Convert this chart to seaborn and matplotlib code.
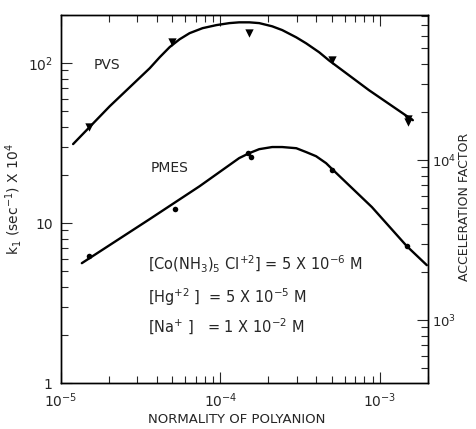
import numpy as np
import pandas as pd
import matplotlib.pyplot as plt
import matplotlib.ticker as mticker
import seaborn as sns

# Measured points (normality of polyanion, k1 x 10^4 in sec^-1)
pvs_x = [1.5e-5, 5e-5, 1.5e-4, 5e-4, 1.5e-3, 1.5e-3]
pvs_y = [39.8, 135, 154, 104, 45, 43]
pmes_x = [1.5e-5, 5.2e-5, 1.48e-4, 1.56e-4, 5e-4, 1.48e-3]
pmes_y = [6.2, 12.2, 27.4, 25.9, 21.4, 7.2]

# Hand-drawn smooth curves
pvs_curve_x = [1.19e-5, 2.02e-5, 3.60e-5, 4.16e-5, 4.80e-5, 5.54e-5, 6.40e-5,
               7.72e-5, 9.44e-5, 1.138e-4, 1.31e-4, 1.518e-4, 1.75e-4, 2.11e-4,
               2.44e-4, 2.99e-4, 3.45e-4, 4.16e-4, 4.80e-4, 8.54e-4, 1.61e-3]
pvs_curve_y = [31.2, 53.8, 93.0, 109, 126, 141, 154,
               165.5, 173, 178, 180, 180, 178, 170,
               161, 145, 133, 117, 104, 67.8, 44.0]
pmes_curve_x = [1.35e-5, 3.60e-5, 7.39e-5, 1.31e-4, 1.518e-4, 1.75e-4, 2.11e-4,
                2.44e-4, 2.99e-4, 3.45e-4, 3.98e-4, 4.60e-4, 5.01e-4, 8.91e-4,
                1.475e-3, 1.97e-3]
pmes_curve_y = [5.62, 10.6, 17.0, 25.5, 27.4, 29.0, 29.9,
                29.9, 29.4, 27.8, 26.2, 23.7, 21.8, 12.6,
                7.18, 5.46]

# acceleration factor per unit of k1 x 10^4 (right-hand scale)
accel_per_k = 404

x_ticks = [1e-5, 1e-4, 1e-3]
x_tick_labels = [r"10$^{-5}$", r"10$^{-4}$", r"10$^{-3}$"]
y_ticks = [1, 10, 100]
y_tick_labels = ["1", "10", r"10$^{2}$"]
y2_ticks = [1e3, 1e4]
y2_tick_labels = [r"10$^{3}$", r"10$^{4}$"]

conditions = [
    r"[Co(NH$_3$)$_5$ Cl$^{+2}$] = 5 X 10$^{-6}$ M",
    r"[Hg$^{+2}$ ]  = 5 X 10$^{-5}$ M",
    r"[Na$^{+}$ ]   = 1 X 10$^{-2}$ M",
]

sns.set_style("ticks")
plt.rcParams['font.family'] = ['DejaVu Sans']

fig = plt.figure(figsize=(4.77, 4.29), dpi=100)
ax = fig.add_axes([0.128, 0.107, 0.769, 0.858])

curves = pd.concat([
    pd.DataFrame({'x': pvs_curve_x, 'y': pvs_curve_y, 'set': 'PVS'}),
    pd.DataFrame({'x': pmes_curve_x, 'y': pmes_curve_y, 'set': 'PMES'}),
])
sns.lineplot(data=curves, x='x', y='y', units='set', estimator=None, sort=False,
             color='black', lw=1.7, ax=ax)
sns.scatterplot(x=pvs_x, y=pvs_y, marker='v', s=36, color='black',
                edgecolor='black', linewidth=0, ax=ax, zorder=3)
sns.scatterplot(x=pmes_x, y=pmes_y, marker='o', s=16, color='black',
                edgecolor='black', linewidth=0, ax=ax, zorder=3)

ax.set_xscale('log')
ax.set_yscale('log')
ax.set_xlim(1e-5, 2e-3)
ax.set_ylim(1, 200)

ax.set_xticks(x_ticks)
ax.set_xticklabels(x_tick_labels)
ax.set_yticks(y_ticks)
ax.set_yticklabels(y_tick_labels)
ax.xaxis.set_minor_locator(mticker.LogLocator(subs=np.arange(2, 10)))
ax.yaxis.set_minor_locator(mticker.LogLocator(subs=np.arange(2, 10)))
ax.xaxis.set_minor_formatter(mticker.NullFormatter())
ax.yaxis.set_minor_formatter(mticker.NullFormatter())
ax.tick_params(which='both', direction='in', top=True, right=False,
               labelsize=10, width=0.8, pad=6)
ax.tick_params(which='major', length=8)
ax.tick_params(which='minor', length=5)

ax.set_xlabel("NORMALITY OF POLYANION", fontsize=9.5)
ax.xaxis.set_label_coords(0.48, -0.08)
ax.set_ylabel(r"k$_1$ (sec$^{-1}$) X 10$^4$", fontsize=10)
ax.yaxis.set_label_coords(-0.10, 0.5)

# right-hand acceleration factor scale
ax2 = ax.twinx()
ax2.set_yscale('log')
ax2.set_ylim(1 * accel_per_k, 200 * accel_per_k)
ax2.set_yticks(y2_ticks)
ax2.set_yticklabels(y2_tick_labels)
ax2.yaxis.set_minor_locator(mticker.LogLocator(subs=np.arange(2, 10)))
ax2.yaxis.set_minor_formatter(mticker.NullFormatter())
ax2.tick_params(which='both', direction='in', labelsize=9.5, width=0.8, pad=3)
ax2.tick_params(which='major', length=8)
ax2.tick_params(which='minor', length=5)
ax2.set_ylabel("ACCELERATION FACTOR", fontsize=9)
ax2.yaxis.set_label_coords(1.082, 0.48)

for a in (ax, ax2):
    for spine in a.spines.values():
        spine.set_linewidth(1.0)
        spine.set_color('black')

ax.text(0.125, 0.864, "PVS", transform=ax.transAxes, fontsize=10,
        ha='center', va='center')
ax.text(0.297, 0.584, "PMES", transform=ax.transAxes, fontsize=10,
        ha='center', va='center')
for text, ypos in zip(conditions, [0.323, 0.234, 0.152]):
    ax.text(0.237, ypos, text, transform=ax.transAxes, fontsize=10.5,
            ha='left', va='center')

plt.savefig('out.png', dpi=100)
